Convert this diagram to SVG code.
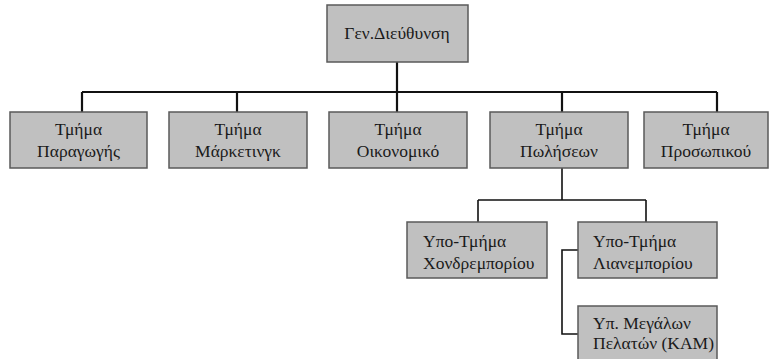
<svg xmlns="http://www.w3.org/2000/svg" width="772" height="359" viewBox="0 0 772 359">
  <style>
    .box { fill: #c0c0c0; stroke: #5a5a5a; stroke-width: 1.5; }
    .lbl { font-family: "Liberation Serif", "Times New Roman", serif; font-size: 17.5px; fill: #1a1a1a; }
    .mid { text-anchor: middle; }
    .main { fill: none; stroke: #111; stroke-width: 2.2; }
    .sub { fill: none; stroke: #111; stroke-width: 1.6; }
  </style>
  <rect width="772" height="359" fill="#ffffff"/>

  <!-- connectors -->
  <g id="connectors">
    <path class="main" d="M397 62 V92 M82 92 H717 M82 92 V112 M237 92 V112 M397 92 V112 M562 92 V112 M717 92 V112"/>
    <path class="sub" d="M562 168 V200 M478 200 H646 M478 200 V222 M646 200 V222"/>
    <path class="sub" d="M578 250 H562 V334 H578"/>
  </g>

  <g id="ceo">
    <rect class="box" x="327" y="5" width="141" height="57"/>
    <text class="lbl mid" x="397" y="39" font-size="17">Γεν.Διεύθυνση</text>
  </g>

  <g id="production">
    <rect class="box" x="10" y="112" width="137" height="56"/>
    <text class="lbl mid" x="78.5" y="135">Τμήμα</text>
    <text class="lbl mid" x="78.5" y="157">Παραγωγής</text>
  </g>

  <g id="marketing">
    <rect class="box" x="169" y="112" width="138" height="56"/>
    <text class="lbl mid" x="238" y="135">Τμήμα</text>
    <text class="lbl mid" x="238" y="157">Μάρκετινγκ</text>
  </g>

  <g id="finance">
    <rect class="box" x="329" y="112" width="138" height="56"/>
    <text class="lbl mid" x="398" y="135">Τμήμα</text>
    <text class="lbl mid" x="398" y="157">Οικονομικό</text>
  </g>

  <g id="sales">
    <rect class="box" x="490" y="112" width="138" height="56"/>
    <text class="lbl mid" x="559" y="135">Τμήμα</text>
    <text class="lbl mid" x="559" y="157">Πωλήσεων</text>
  </g>

  <g id="personnel">
    <rect class="box" x="644" y="112" width="124" height="56"/>
    <text class="lbl mid" x="706" y="135">Τμήμα</text>
    <text class="lbl mid" x="706" y="157">Προσωπικού</text>
  </g>

  <g id="wholesale">
    <rect class="box" x="407" y="222" width="140" height="56"/>
    <text class="lbl" x="423" y="247" font-size="17">Υπο-Τμήμα</text>
    <text class="lbl" x="423" y="269" font-size="17">Χονδρεμπορίου</text>
  </g>

  <g id="retail">
    <rect class="box" x="578" y="222" width="139" height="56"/>
    <text class="lbl" x="593" y="247" font-size="17">Υπο-Τμήμα</text>
    <text class="lbl" x="593" y="269" font-size="17">Λιανεμπορίου</text>
  </g>

  <g id="key-accounts">
    <rect class="box" x="578" y="306" width="139" height="60"/>
    <text class="lbl" x="593" y="329" font-size="14">Υπ. Μεγάλων</text>
    <text class="lbl" x="593" y="349" font-size="12.5">Πελατών (KAM)</text>
  </g>
</svg>
